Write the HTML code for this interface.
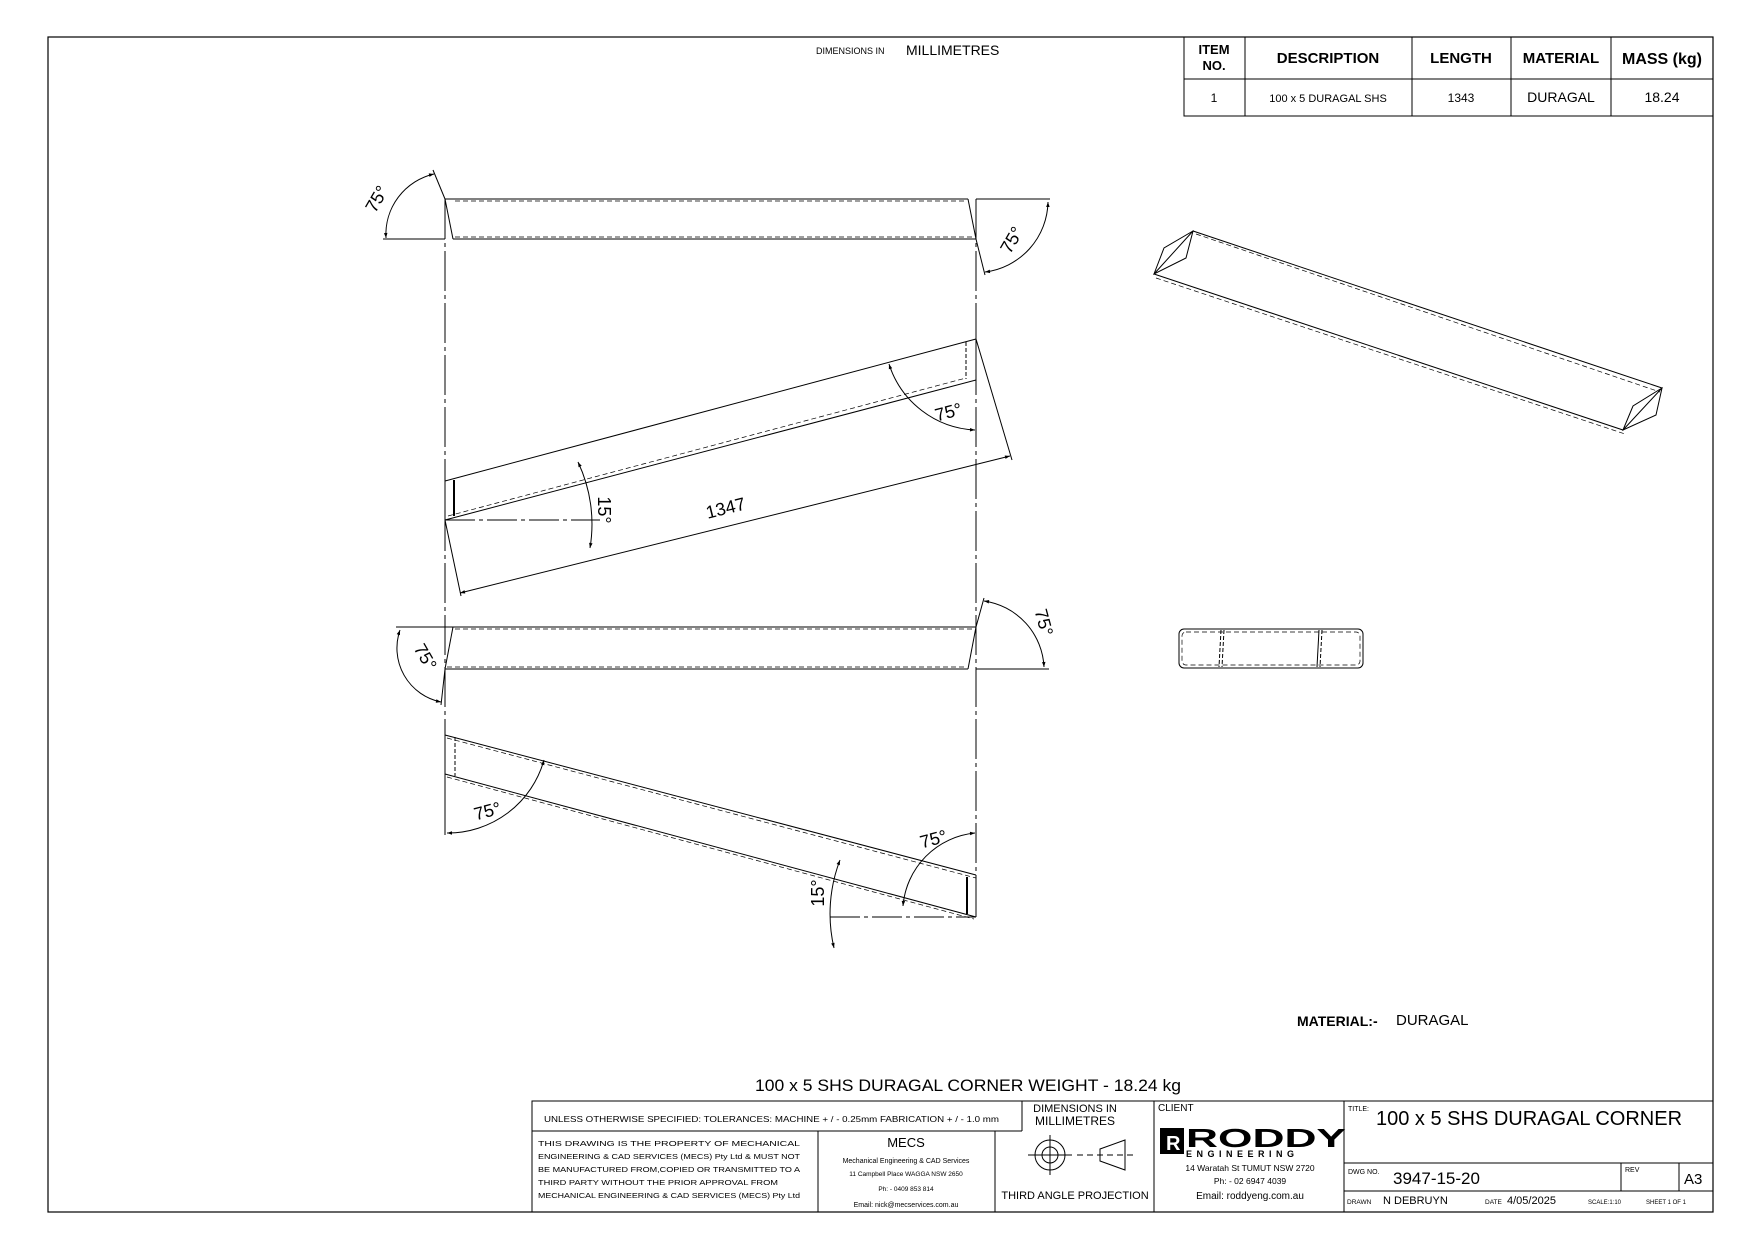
<!DOCTYPE html>
<html><head><meta charset="utf-8"><style>
html,body{margin:0;padding:0;background:#fff}
svg{display:block}
text{font-family:"Liberation Sans",sans-serif;fill:#000}
</style></head><body>
<svg width="1753" height="1240" viewBox="0 0 1753 1240" xmlns="http://www.w3.org/2000/svg">
<defs>
<marker id="ar" viewBox="0 0 10 10" refX="10" refY="5" markerWidth="9" markerHeight="5" orient="auto-start-reverse" markerUnits="userSpaceOnUse"><path d="M0,1.5 L10,5 L0,8.5 z" fill="#000"/></marker>
</defs>
<g fill="none" stroke="#000" stroke-width="1">
<rect x="48" y="37" width="1665" height="1175" stroke-width="1.2"/>
<!-- table -->
<rect x="1184" y="37" width="529" height="79"/>
<line x1="1184" y1="79" x2="1713" y2="79"/>
<line x1="1245" y1="37" x2="1245" y2="116"/>
<line x1="1412" y1="37" x2="1412" y2="116"/>
<line x1="1511" y1="37" x2="1511" y2="116"/>
<line x1="1611" y1="37" x2="1611" y2="116"/>

<!-- center lines -->
<line x1="445" y1="199" x2="445" y2="833" stroke-dasharray="40,4,4,4"/>
<line x1="976" y1="199" x2="976" y2="917" stroke-dasharray="40,4,4,4"/>

<!-- beam 1 -->
<line x1="445" y1="199" x2="968" y2="199"/>
<line x1="455" y1="201" x2="966" y2="201" stroke-dasharray="5,3" stroke-width="0.7"/>
<line x1="453" y1="239" x2="976" y2="239"/>
<line x1="455" y1="237" x2="974" y2="237" stroke-dasharray="5,3" stroke-width="0.7"/>
<line x1="445" y1="199" x2="453" y2="239"/>
<line x1="968" y1="199" x2="976" y2="239"/>
<line x1="383" y1="239" x2="445" y2="239"/>
<line x1="433" y1="170" x2="445" y2="199"/>
<path d="M386,238 A62,62 0 0 1 434,174" marker-start="url(#ar)" marker-end="url(#ar)"/>
<line x1="976" y1="199" x2="1050" y2="199"/>
<line x1="976" y1="239" x2="985" y2="275"/>
<path d="M1048,202 A72,72 0 0 1 985,272" marker-start="url(#ar)" marker-end="url(#ar)"/>

<!-- beam 2 -->
<line x1="445" y1="481" x2="976" y2="339"/>
<line x1="445" y1="520" x2="976" y2="380"/>
<line x1="448" y1="516" x2="966" y2="378" stroke-dasharray="5,3" stroke-width="0.7"/>
<line x1="445" y1="481" x2="445" y2="520"/>
<line x1="454" y1="480" x2="454" y2="516" stroke-width="2"/>
<line x1="966" y1="342" x2="966" y2="379" stroke-dasharray="4,2"/>
<line x1="976" y1="339" x2="976" y2="380"/>
<line x1="445" y1="520" x2="461" y2="596"/>
<line x1="976" y1="339" x2="1012" y2="460"/>
<line x1="460" y1="593" x2="1010" y2="456" marker-start="url(#ar)" marker-end="url(#ar)"/>
<text x="727" y="514" font-size="18" transform="rotate(-14 727 514)" text-anchor="middle" stroke="none">1347</text>
<line x1="445" y1="520" x2="600" y2="520" stroke-dasharray="30,4,4,4"/>
<path d="M578,462 A145,145 0 0 1 590,548" marker-start="url(#ar)" marker-end="url(#ar)"/>
<path d="M889,364 A95,95 0 0 0 975,430" marker-start="url(#ar)" marker-end="url(#ar)"/>

<!-- beam 3 -->
<line x1="453" y1="627" x2="976" y2="627"/>
<line x1="455" y1="629" x2="974" y2="629" stroke-dasharray="5,3" stroke-width="0.7"/>
<line x1="445" y1="669" x2="968" y2="669"/>
<line x1="447" y1="667" x2="966" y2="667" stroke-dasharray="5,3" stroke-width="0.7"/>
<line x1="453" y1="627" x2="445" y2="669"/>
<line x1="976" y1="627" x2="968" y2="669"/>
<line x1="396" y1="627" x2="453" y2="627"/>
<line x1="445" y1="669" x2="441" y2="705"/>
<path d="M400,630 A55,55 0 0 0 441,702" marker-start="url(#ar)" marker-end="url(#ar)"/>
<line x1="976" y1="669" x2="1049" y2="669"/>
<line x1="976" y1="627" x2="984" y2="598"/>
<path d="M984,601 A70,70 0 0 1 1044,667" marker-start="url(#ar)" marker-end="url(#ar)"/>

<!-- beam 4 -->
<line x1="445" y1="735" x2="976" y2="875"/>
<line x1="447" y1="738" x2="976" y2="878" stroke-dasharray="5,3" stroke-width="0.7"/>
<line x1="445" y1="774" x2="976" y2="917"/>
<line x1="447" y1="777" x2="974" y2="919" stroke-dasharray="5,3" stroke-width="0.7"/>
<line x1="445" y1="735" x2="445" y2="835"/>
<line x1="455" y1="737" x2="455" y2="776" stroke-dasharray="4,2"/>
<line x1="967" y1="877" x2="967" y2="914" stroke-width="2"/>
<line x1="976" y1="875" x2="976" y2="917"/>
<path d="M447,833 A100,100 0 0 0 544,760" marker-start="url(#ar)" marker-end="url(#ar)"/>
<path d="M975,833 A80,80 0 0 0 903,906" marker-start="url(#ar)" marker-end="url(#ar)"/>
<line x1="830" y1="917" x2="976" y2="917" stroke-dasharray="30,4,4,4"/>
<path d="M840,860 A150,150 0 0 0 834,948" marker-start="url(#ar)" marker-end="url(#ar)"/>

<!-- iso -->
<path d="M1154,274 L1193,231 L1662,388 L1623,430 Z"/>
<path d="M1156,278 L1625,434" stroke-dasharray="5,3" stroke-width="0.7"/>
<path d="M1196,234 L1660,392" stroke-dasharray="5,3" stroke-width="0.7"/>
<path d="M1154,274 L1164,248 L1193,231 L1186,258 Z"/>
<path d="M1623,430 L1633,406 L1662,388 L1656,415 Z"/>
<!-- end view -->
<rect x="1179" y="629" width="184" height="39" rx="5"/>
<rect x="1182" y="632" width="178" height="33" rx="4" stroke-dasharray="5,3" stroke-width="0.7"/>
<line x1="1221" y1="630" x2="1219" y2="667" stroke-dasharray="4,2"/>
<line x1="1224" y1="630" x2="1222" y2="667" stroke-dasharray="4,2"/>
<line x1="1319" y1="630" x2="1317" y2="667"/>
<line x1="1322" y1="630" x2="1320" y2="667" stroke-dasharray="4,2"/>

<!-- title block -->
<rect x="532" y="1101" width="1181" height="111"/>
<line x1="532" y1="1131" x2="1022" y2="1131"/>
<line x1="818" y1="1131" x2="818" y2="1212"/>
<line x1="995" y1="1131" x2="995" y2="1212"/>
<line x1="1022" y1="1101" x2="1022" y2="1131"/>
<line x1="1154" y1="1101" x2="1154" y2="1212"/>
<line x1="1344" y1="1101" x2="1344" y2="1212"/>
<line x1="1344" y1="1163" x2="1713" y2="1163"/>
<line x1="1344" y1="1191" x2="1713" y2="1191"/>
<line x1="1621" y1="1163" x2="1621" y2="1191"/>
<line x1="1679" y1="1163" x2="1679" y2="1191"/>
<circle cx="1050" cy="1155" r="15"/>
<circle cx="1050" cy="1155" r="8"/>
<line x1="1028" y1="1155" x2="1072" y2="1155"/>
<line x1="1050" y1="1135" x2="1050" y2="1175"/>
<path d="M1100,1149 L1125,1140 L1125,1170 L1100,1161 Z"/>
<line x1="1077" y1="1155" x2="1135" y2="1155" stroke-dasharray="6,4"/>
</g>

<g stroke="none">
<text x="1214" y="54" font-size="13" font-weight="bold" text-anchor="middle">ITEM</text>
<text x="1214" y="70" font-size="13" font-weight="bold" text-anchor="middle">NO.</text>
<text x="1328" y="63" font-size="15" font-weight="bold" text-anchor="middle">DESCRIPTION</text>
<text x="1461" y="63" font-size="15" font-weight="bold" text-anchor="middle">LENGTH</text>
<text x="1561" y="63" font-size="15" font-weight="bold" text-anchor="middle">MATERIAL</text>
<text x="1662" y="64" font-size="16" font-weight="bold" text-anchor="middle">MASS (kg)</text>
<text x="1214" y="102" font-size="12" text-anchor="middle">1</text>
<text x="1328" y="102" font-size="11" text-anchor="middle">100 x 5 DURAGAL SHS</text>
<text x="1461" y="102" font-size="12" text-anchor="middle">1343</text>
<text x="1561" y="102" font-size="14" text-anchor="middle">DURAGAL</text>
<text x="1662" y="102" font-size="14" text-anchor="middle">18.24</text>

<text x="816" y="54" font-size="9">DIMENSIONS IN</text>
<text x="906" y="55" font-size="14">MILLIMETRES</text>

<text x="382" y="202" font-size="18" transform="rotate(-60 382 202)" text-anchor="middle">75°</text>
<text x="1017" y="243" font-size="18" transform="rotate(-60 1017 243)" text-anchor="middle">75°</text>
<text x="598" y="510" font-size="18" transform="rotate(90 598 510)" text-anchor="middle">15°</text>
<text x="950" y="418" font-size="18" transform="rotate(-15 950 418)" text-anchor="middle">75°</text>
<text x="1038" y="624" font-size="18" transform="rotate(75 1038 624)" text-anchor="middle">75°</text>
<text x="420" y="660" font-size="18" transform="rotate(60 420 660)" text-anchor="middle">75°</text>
<text x="489" y="817" font-size="18" transform="rotate(-15 489 817)" text-anchor="middle">75°</text>
<text x="935" y="845" font-size="18" transform="rotate(-15 935 845)" text-anchor="middle">75°</text>
<text x="824" y="893" font-size="18" transform="rotate(-90 824 893)" text-anchor="middle">15°</text>

<text x="1297" y="1026" font-size="14" font-weight="bold">MATERIAL:-</text>
<text x="1396" y="1025" font-size="15">DURAGAL</text>
<text x="755" y="1091" font-size="17" textLength="426" lengthAdjust="spacingAndGlyphs">100 x 5 SHS DURAGAL CORNER  WEIGHT - 18.24 kg</text>

<text x="544" y="1122" font-size="8.5" textLength="455" lengthAdjust="spacingAndGlyphs">UNLESS OTHERWISE SPECIFIED: TOLERANCES: MACHINE + / - 0.25mm  FABRICATION + / - 1.0 mm</text>
<text x="1075" y="1112" font-size="11" text-anchor="middle">DIMENSIONS IN</text>
<text x="1075" y="1125" font-size="12" text-anchor="middle">MILLIMETRES</text>
<text x="538" y="1146" font-size="7" textLength="262" lengthAdjust="spacingAndGlyphs">THIS DRAWING IS THE PROPERTY OF MECHANICAL</text>
<text x="538" y="1159" font-size="7" textLength="262" lengthAdjust="spacingAndGlyphs">ENGINEERING &amp; CAD SERVICES (MECS) Pty Ltd &amp; MUST NOT</text>
<text x="538" y="1172" font-size="7" textLength="262" lengthAdjust="spacingAndGlyphs">BE MANUFACTURED FROM,COPIED OR TRANSMITTED TO A</text>
<text x="538" y="1185" font-size="7" textLength="240" lengthAdjust="spacingAndGlyphs">THIRD PARTY WITHOUT THE PRIOR APPROVAL FROM</text>
<text x="538" y="1198" font-size="7" textLength="262" lengthAdjust="spacingAndGlyphs">MECHANICAL ENGINEERING &amp; CAD SERVICES (MECS) Pty Ltd</text>
<text x="906" y="1147" font-size="13" text-anchor="middle">MECS</text>
<text x="906" y="1163" font-size="7" text-anchor="middle">Mechanical Engineering &amp; CAD Services</text>
<text x="906" y="1176" font-size="6.5" text-anchor="middle">11 Campbell Place WAGGA NSW 2650</text>
<text x="906" y="1191" font-size="6.5" text-anchor="middle">Ph: - 0409 853 814</text>
<text x="906" y="1207" font-size="7" text-anchor="middle">Email: nick@mecservices.com.au</text>
<text x="1075" y="1199" font-size="11" text-anchor="middle">THIRD ANGLE PROJECTION</text>
<text x="1158" y="1111" font-size="10">CLIENT</text>
<rect x="1160" y="1128" width="24" height="26" fill="#000"/>
<text x="1166" y="1150" font-size="20" font-weight="bold" style="fill:#fff">R</text>
<text x="1186" y="1147" font-size="26" font-weight="bold" textLength="160" lengthAdjust="spacingAndGlyphs">RODDY</text>
<text x="1186" y="1157" font-size="9" font-weight="bold" letter-spacing="4.5">ENGINEERING</text>
<text x="1250" y="1171" font-size="8.5" text-anchor="middle">14 Waratah St TUMUT NSW 2720</text>
<text x="1250" y="1184" font-size="8.5" text-anchor="middle">Ph: - 02 6947 4039</text>
<text x="1250" y="1199" font-size="10" text-anchor="middle">Email: roddyeng.com.au</text>
<text x="1348" y="1111" font-size="7">TITLE:</text>
<text x="1376" y="1125" font-size="20">100 x 5 SHS DURAGAL CORNER</text>
<text x="1348" y="1174" font-size="7">DWG NO.</text>
<text x="1393" y="1184" font-size="17">3947-15-20</text>
<text x="1625" y="1172" font-size="7">REV</text>
<text x="1684" y="1184" font-size="15">A3</text>
<text x="1347" y="1204" font-size="6.5">DRAWN</text>
<text x="1383" y="1204" font-size="11">N DEBRUYN</text>
<text x="1485" y="1204" font-size="6.5">DATE</text>
<text x="1507" y="1204" font-size="11">4/05/2025</text>
<text x="1588" y="1204" font-size="6">SCALE:1:10</text>
<text x="1646" y="1204" font-size="6">SHEET 1 OF 1</text>
</g>
</svg>
</body></html>
